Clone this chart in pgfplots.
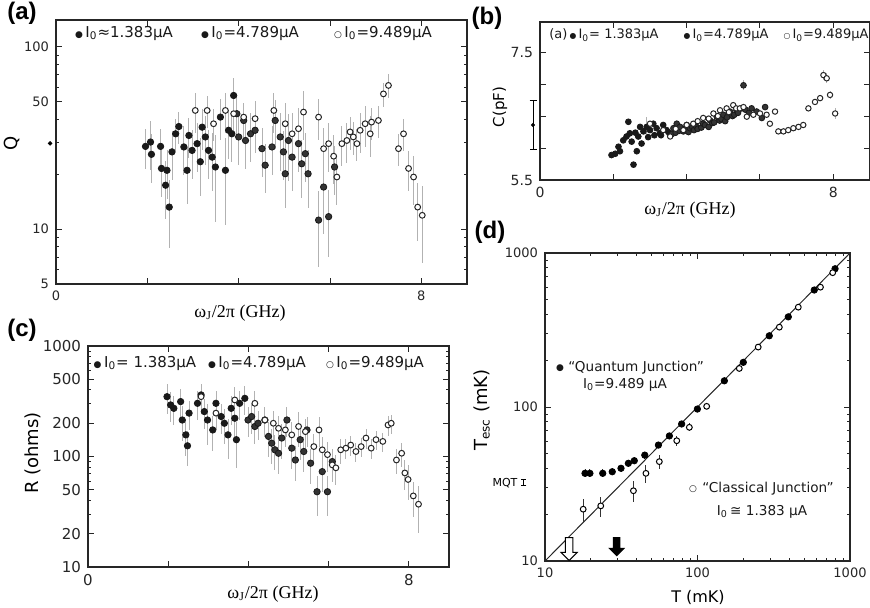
\documentclass[border=0pt]{standalone}
\usepackage{pgfplots}
\pgfplotsset{compat=1.18}
\usepackage{pgfplotstable}
\usepackage{graphicx}
\usepackage{fontspec}
\setmainfont{DejaVu Sans}
\newfontfamily\serif{Liberation Serif}
\newfontfamily\panelfont{Liberation Sans}
\usetikzlibrary{shapes.arrows,arrows.meta}

\newcommand\Io{I\textsubscript{0}}
\newcommand\fdot{\scalebox{0.6}{●}}
\newcommand\opendot{\scalebox{0.6}{○}}

\pgfplotsset{
  panel/.style={
    scale only axis, anchor=south west, clip=false,
    axis line style={line width=0.6pt, black!85},
    every tick/.style={line width=0.5pt, black!85},
    major tick length=3pt, minor tick length=1.5pt,
    tick label style={font=\fontsize{6.5}{6.5}\selectfont, black!85},
  },
  s1/.style={only marks, mark=*, mark size=1.6pt, mark options={draw=black!90, fill=black!90}},
  s2/.style={only marks, mark=*, mark size=1.6pt, mark options={draw=black!90, fill=black!80}},
  s3/.style={only marks, mark=*, mark size=1.45pt, mark options={draw=black!85, fill=white, line width=0.5pt}},
  erel/.style={error bars/.cd, y dir=both, y explicit relative, error mark=none,
    error bar style={gray!60, line width=0.45pt}},
  eabs/.style={error bars/.cd, y dir=both, y explicit, error mark=none,
    error bar style={gray!60, line width=0.45pt}},
}

% ---------- (a) Q vs frequency
\pgfplotstableread{
x y e
1.96 28.4 0.25
2.07 30.0 0.3
2.09 25.7 0.3
2.29 28.4 0.25
2.31 21.5 0.3
2.40 17.4 0.35
2.43 21.0 0.3
2.48 13.2 0.4
2.54 26.5 0.3
2.62 33.3 0.2
2.69 36.5 0.2
2.80 28.2 0.3
2.87 21.0 0.35
2.91 32.6 0.25
2.98 27.0 0.3
3.09 29.4 0.3
3.16 23.4 0.35
3.20 36.2 0.25
3.27 32.0 0.3
3.34 27.0 0.3
3.42 24.8 0.35
3.49 21.9 0.5
3.60 41.1 0.25
3.71 21.0 0.5
3.78 34.8 0.3
3.85 33.3 0.3
3.89 54.0 0.25
}\aone
\pgfplotstableread{
x y e
3.96 42.9 0.25
4.00 32.0 0.3
4.11 39.4 0.25
4.15 30.6 0.3
4.26 33.3 0.3
4.36 34.8 0.25
4.51 27.6 0.3
4.58 22.4 0.3
4.73 28.2 0.3
4.80 39.4 0.3
4.91 32.0 0.35
4.98 26.5 0.3
5.02 20.1 0.35
5.09 30.6 0.4
5.17 24.8 0.35
5.31 29.4 0.3
5.38 22.8 0.35
5.46 25.9 0.3
5.52 20.1 0.35
5.75 11.2 0.45
5.86 17.0 0.45
5.97 11.7 0.4
6.10 21.9 0.3
}\atwo
\pgfplotstableread{
x y e
3.05 44.7 0.25
3.31 44.7 0.2
3.45 37.8 0.2
3.71 44.7 0.25
3.89 42.9 0.2
4.11 41.1 0.2
4.36 40.3 0.25
4.77 44.7 0.25
5.02 37.8 0.3
5.17 33.3 0.3
5.31 35.5 0.3
5.42 43.8 0.3
5.75 41.1 0.25
5.86 27.6 0.3
5.97 29.4 0.3
6.08 25.1 0.3
6.15 19.3 0.3
6.26 29.4 0.25
6.37 30.6 0.25
6.44 34.1 0.2
6.51 32.0 0.2
6.59 29.4 0.2
6.66 34.8 0.25
6.77 37.8 0.25
6.88 33.3 0.25
6.91 38.6 0.2
7.06 39.4 0.2
7.17 55.1 0.15
7.28 61.3 0.15
7.50 27.6 0.2
7.61 33.3 0.2
7.72 21.5 0.25
7.83 19.3 0.3
7.92 13.2 0.35
8.02 11.9 0.45
}\athree

% ---------- (b) C vs frequency
\pgfplotstableread{
x y e
1.95 5.89 0.02
2.05 5.91 0.02
2.14 6.02 0.02
2.18 5.95 0.02
2.27 6.12 0.02
2.36 6.18 0.02
2.41 6.41 0.03
2.45 6.23 0.02
2.50 6.10 0.02
2.55 5.74 0.02
2.60 6.24 0.02
2.64 5.95 0.02
2.68 6.18 0.02
2.73 6.33 0.02
2.77 6.07 0.02
2.82 6.26 0.02
2.91 6.33 0.15
2.95 6.17 0.02
3.00 6.28 0.02
3.09 6.38 0.02
3.12 6.20 0.02
3.18 6.31 0.02
3.27 6.23 0.02
3.30 6.20 0.02
3.36 6.36 0.02
3.45 6.28 0.02
3.50 6.25 0.02
3.55 6.20 0.02
}\bone
\pgfplotstableread{
x y e
3.60 6.22 0.02
3.64 6.31 0.02
3.70 6.24 0.02
3.73 6.38 0.02
3.80 6.27 0.02
3.82 6.33 0.02
3.91 6.26 0.02
3.95 6.30 0.02
4.00 6.36 0.02
4.05 6.25 0.02
4.09 6.31 0.02
4.15 6.33 0.02
4.20 6.28 0.02
4.27 6.33 0.02
4.30 6.30 0.02
4.40 6.32 0.02
4.45 6.38 0.02
4.50 6.36 0.02
4.60 6.33 0.02
4.64 6.43 0.02
4.70 6.39 0.02
4.75 6.40 0.02
4.82 6.49 0.02
4.90 6.43 0.02
4.95 6.45 0.02
5.00 6.52 0.02
5.05 6.42 0.02
5.10 6.48 0.02
5.18 6.57 0.02
5.25 6.50 0.02
5.30 6.52 0.02
5.36 6.59 0.02
5.40 6.55 0.02
5.50 6.62 0.02
5.55 6.98 0.08
5.60 6.60 0.02
5.70 6.55 0.02
5.77 6.62 0.04
5.91 6.57 0.04
6.05 6.47 0.03
6.14 6.64 0.03
}\btwo
\pgfplotstableread{
x y e
3.00 6.38 0.03
3.36 6.28 0.03
3.55 6.18 0.03
3.70 6.30 0.03
3.91 6.28 0.03
4.00 6.36 0.03
4.18 6.38 0.03
4.30 6.42 0.03
4.45 6.47 0.03
4.60 6.46 0.03
4.73 6.54 0.03
4.85 6.50 0.03
4.91 6.59 0.03
5.09 6.62 0.03
5.15 6.56 0.03
5.27 6.67 0.03
5.35 6.62 0.03
5.45 6.62 0.03
5.55 6.64 0.03
5.64 6.49 0.04
5.82 6.52 0.04
6.00 6.54 0.04
6.18 6.52 0.04
6.27 6.38 0.03
6.41 6.57 0.04
6.50 6.26 0.03
6.64 6.26 0.03
6.77 6.28 0.03
6.91 6.31 0.03
7.05 6.33 0.03
7.18 6.36 0.03
7.32 6.62 0.03
7.50 6.72 0.03
7.64 6.78 0.03
7.73 7.14 0.08
7.82 7.09 0.08
7.91 6.83 0.06
8.05 6.54 0.08
}\bthree

% ---------- (c) R vs frequency
\pgfplotstableread{
x y e
1.97 348 0.3
2.06 293 0.3
2.14 273 0.3
2.31 314 0.3
2.35 214 0.35
2.44 157 0.35
2.48 125 0.35
2.52 247 0.3
2.73 303 0.3
2.82 361 0.25
2.90 255 0.3
2.98 214 0.4
3.11 174 0.35
3.19 303 0.3
3.32 230 0.3
3.40 200 0.35
3.49 157 0.4
3.57 273 0.3
3.66 222 0.35
3.70 142 0.45
3.78 303 0.3
3.91 336 0.3
}\cone
\pgfplotstableread{
x y e
3.99 214 0.3
4.08 230 0.3
4.16 187 0.3
4.24 200 0.3
4.41 214 0.3
4.50 152 0.35
4.58 132 0.35
4.66 115 0.35
4.75 107 0.35
4.83 147 0.35
4.96 214 0.3
5.08 119 0.35
5.17 93 0.35
5.29 142 0.35
5.38 111 0.35
5.46 174 0.3
5.55 87 0.35
5.71 48 0.4
5.84 73 0.35
5.97 48 0.4
6.09 90 0.3
}\ctwo
\pgfplotstableread{
x y e
2.82 348 0.3
3.19 247 0.3
3.66 325 0.3
4.16 303 0.3
4.41 214 0.3
4.62 200 0.3
4.75 180 0.3
4.92 174 0.3
5.08 157 0.3
5.25 187 0.35
5.42 168 0.3
5.63 123 0.3
5.76 174 0.3
5.84 115 0.3
5.97 104 0.3
6.09 84 0.3
6.18 79 0.3
6.30 115 0.25
6.43 119 0.2
6.55 127 0.2
6.68 111 0.2
6.81 123 0.2
6.93 147 0.2
7.06 119 0.2
7.18 142 0.2
7.35 137 0.2
7.48 193 0.2
7.56 200 0.2
7.69 93 0.25
7.82 107 0.25
7.90 71 0.3
7.98 62 0.35
8.11 44 0.35
8.24 37 0.45
}\cthree

% ---------- (d) T_esc vs T
\pgfplotstableread{
x y e
18.3 37.1 0.06
19.7 37.1 0.06
23.9 37.1 0.06
27.6 38.0 0.05
31.5 40.0 0.05
35.2 43.1 0.05
38.5 44.8 0.05
45.1 48.7 0.05
55.4 56.6 0.04
65.4 64.9 0.04
78.7 77.6 0.04
99.8 97 0.03
150 148 0.03
199.7 195 0.03
295.6 290 0.02
394 385 0.02
583 575 0.02
798 790 0.02
}\dq
\pgfplotstableread{
x y e
17.8 21.7 0.17
23.2 22.8 0.15
38.0 28.6 0.15
45.9 37.1 0.13
56.2 44.2 0.1
73.1 60.4 0.08
88.4 73.8 0.06
114.8 101 0.03
187.9 178 0.03
250 245 0.02
344 330 0.02
458 445 0.02
640 600 0.02
770 745 0.02
}\dc

\begin{document}
\begin{tikzpicture}
\useasboundingbox (0,0) rectangle (435pt,303.5pt);

% (a)
\begin{axis}[panel, at={(28pt,161.5pt)}, width=205.5pt, height=132pt,
  xmin=0, xmax=9, ymode=log, ymin=5, ymax=140,
  xtick={0,2,4,6,8}, xticklabels={0,,,,8},
  ytick={5,10,50,100}, yticklabels={5,10,50,100},
  minor ytick={6,7,8,9,20,30,40,60,70,80,90}]
\addplot[s1, erel] table[x=x, y=y, y error=e] {\aone};
\addplot[s2, erel] table[x=x, y=y, y error=e] {\atwo};
\addplot[s3, erel] table[x=x, y=y, y error=e] {\athree};
\addplot[only marks, mark=*, mark size=0.9pt, black] coordinates {(-0.13,29.5)};
\end{axis}

% (b)
\begin{axis}[panel, at={(270pt,213.5pt)}, width=165pt, height=79pt,
  xmin=0, xmax=9, ymin=5.5, ymax=7.97,
  xtick={0,2,4,6,8}, xticklabels={0,,,,8},
  ytick={5.5,6,6.5,7,7.5}, yticklabels={5.5,,,,7.5},
  tick label style={font=\fontsize{7}{7}\selectfont}]
\addplot[s1, mark size=1.45pt, eabs] table[x=x, y=y, y error=e] {\bone};
\addplot[s2, mark size=1.45pt, eabs] table[x=x, y=y, y error=e] {\btwo};
\addplot[s3, mark size=1.35pt, eabs] table[x=x, y=y, y error=e] {\bthree};
\addplot[black, line width=0.5pt, {Bar[width=3.5pt]}-{Bar[width=3.5pt]}] coordinates {(-0.19,5.97) (-0.19,6.75)};
\addplot[only marks, mark=*, mark size=0.8pt, black] coordinates {(-0.19,6.36)};
\end{axis}

% (c)
\begin{axis}[panel, at={(44pt,20pt)}, width=180.5pt, height=110.5pt,
  xmin=0, xmax=9, ymode=log, ymin=10, ymax=1000,
  xtick={0,2,4,6,8}, xticklabels={0,,,,8},
  ytick={10,20,50,100,200,500,1000}, yticklabels={10,20,50,100,200,500,1000},
  minor ytick={30,40,60,70,80,90,300,400,600,700,800,900},
  tick label style={font=\fontsize{7.5}{7.5}\selectfont}]
\addplot[s1, erel] table[x=x, y=y, y error=e] {\cone};
\addplot[s2, erel] table[x=x, y=y, y error=e] {\ctwo};
\addplot[s3, erel] table[x=x, y=y, y error=e] {\cthree};
\end{axis}

% (d)
\begin{axis}[panel, at={(272.5pt,23pt)}, width=152.5pt, height=154pt,
  xmode=log, ymode=log, xmin=10, xmax=1000, ymin=10, ymax=1000,
  xtick={10,100,1000}, xticklabels={10,100,1000},
  ytick={10,100,1000}, yticklabels={10,100,1000},
  minor xtick={20,30,40,50,60,70,80,90,200,300,400,500,600,700,800,900},
  minor ytick={20,30,40,50,60,70,80,90,200,300,400,500,600,700,800,900}]
\addplot[black!85, line width=0.5pt] coordinates {(10,10) (1000,1000)};
\addplot[only marks, mark=*, mark size=1.6pt, mark options={draw=black, fill=black},
  error bars/.cd, y dir=both, y explicit relative, error mark=none,
  error bar style={black!80, line width=0.5pt}] table[x=x, y=y, y error=e] {\dq};
\addplot[only marks, mark=*, mark size=1.45pt, mark options={draw=black, fill=white, line width=0.5pt},
  error bars/.cd, y dir=both, y explicit relative, error mark=none,
  error bar style={black!80, line width=0.5pt}] table[x=x, y=y, y error=e] {\dc};
\addplot[black, line width=0.5pt, {Bar[width=2.5pt]}-{Bar[width=2.5pt]}] coordinates {(7.28,30.7) (7.28,34.0)};
\node[single arrow, draw=black, fill=white, rotate=-90, line width=0.5pt,
  minimum height=11.5pt, inner sep=1.6pt, single arrow head extend=2.2pt] at (axis cs:14.4,12.3) {};
\node[single arrow, draw=black, fill=black, rotate=-90, line width=0.5pt,
  minimum height=9pt, inner sep=1.4pt, single arrow head extend=2pt] at (axis cs:29.5,12.7) {};
\end{axis}

% texts, placed in image pixels (origin top left)
\begin{scope}[x=0.5pt, y=-0.5pt, shift={(0pt,303.5pt)}]
\tikzset{pl/.style={font=\panelfont\bfseries\fontsize{12}{12}\selectfont},
  lg/.style={font=\fontsize{7.5}{8}\selectfont, black!90},
  dl/.style={font=\fontsize{6.8}{7.2}\selectfont, black!90, inner sep=0.5pt},
  xl/.style={font=\serif\fontsize{9}{9}\selectfont}}
\node[pl] at (22,13) {(a)};
\node[pl] at (487,18) {(b)};
\node[pl] at (22,330) {(c)};
\node[pl] at (490,232) {(d)};
% legends
\node[lg] at (124,33) {\fdot\,\Io≈1.383μA};
\node[lg] at (250,33) {\fdot\,\Io=4.789μA};
\node[lg] at (383,33) {\opendot\,\Io=9.489μA};
\node[lg, font=\fontsize{6.5}{7}\selectfont] at (604,35) {(a)\,\fdot\,\Io= 1.383μA};
\node[lg, font=\fontsize{6.5}{7}\selectfont] at (726,35) {\fdot\,\Io=4.789μA};
\node[lg, font=\fontsize{6.5}{7}\selectfont] at (826,35) {\opendot\,\Io=9.489μA};
\node[lg] at (145,363) {\fdot\,\Io= 1.383μA};
\node[lg] at (257,363) {\fdot\,\Io=4.789μA};
\node[lg] at (375,363) {\opendot\,\Io=9.489μA};
% axis titles
\node[rotate=90, font=\fontsize{9}{9}\selectfont] at (12,143) {Q};
\node[rotate=90, font=\fontsize{7.5}{8}\selectfont] at (500,107) {C(pF)};
\node[rotate=90, font=\fontsize{9}{9}\selectfont] at (33,453) {R (ohms)};
\node[rotate=90, font=\fontsize{9}{9}\selectfont] at (482,410) {T\textsubscript{esc} (mK)};
\node[xl] at (240,313) {ω\textsubscript{J}/2π (GHz)};
\node[xl] at (690,210) {ω\textsubscript{J}/2π (GHz)};
\node[xl] at (273,594) {ω\textsubscript{J}/2π (GHz)};
\node[font=\fontsize{8}{8}\selectfont] at (698,597) {T (mK)};
% (d) annotations
\node[lg] at (560,368) {\fdot};
\node[dl, anchor=west] at (567,368) {``Quantum Junction''};
\node[dl] at (625,385) {\Io =9.489 μA};
\node[lg] at (693,489) {\opendot};
\node[dl, anchor=west] at (701,489) {``Classical Junction''};
\node[dl] at (762,512) {\Io\,≅ 1.383 μA};
\node[font=\fontsize{5.5}{6}\selectfont] at (505,483) {MQT};
\end{scope}
\end{tikzpicture}
\end{document}
